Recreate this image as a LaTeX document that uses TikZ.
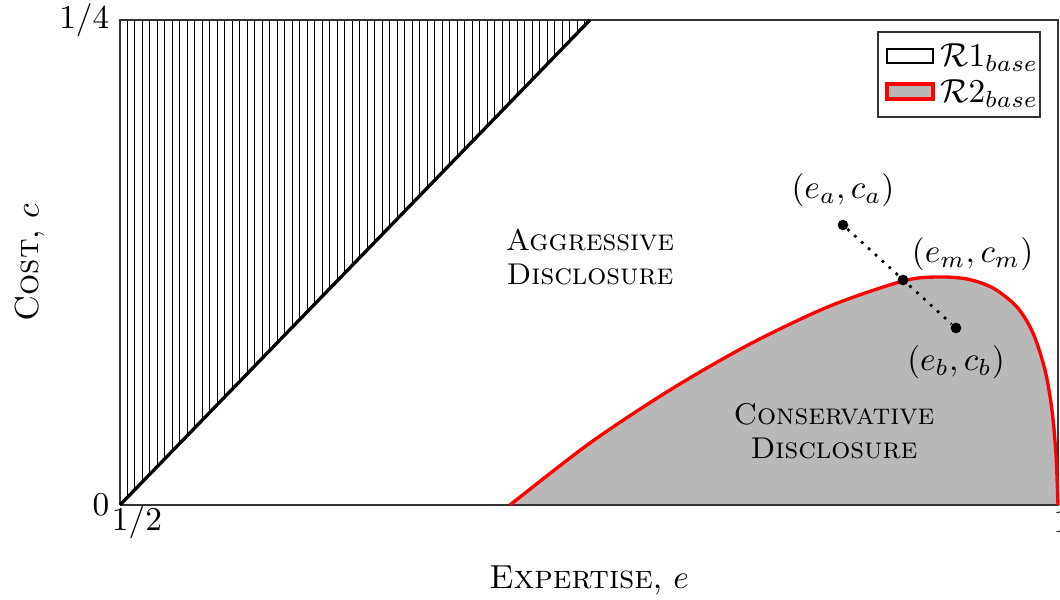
\documentclass[tikz,border=0pt]{standalone}
\usepackage{amsmath}
\usepackage{amssymb}
\usetikzlibrary{positioning, calc}

\tikzset{
    hatch/.style={black, line width=0.3pt},
    frameline/.style={black!80, line width=0.45pt},
    boundary/.style={black, line width=1pt},
    region2/.style={red, line width=1pt},
    pt/.style={circle, fill=black, inner sep=0pt, minimum size=3.2pt},
    regionlabel/.style={align=center, font=\linespread{0.91}\small\scshape},
}

\newcommand{\rtwocurve}{(390,0) (470,62) (550,115) (630,161) (710,199) (783,224) (817,228) (847,226) (873,217) (897,198) (913,172) (925,135) (932,95) (936,50) (938,0)}

\begin{document}
\begin{tikzpicture}[x=0.3pt, y=0.3pt]
\useasboundingbox (-120,-95) rectangle (940,505);

% corners of the axis box
\coordinate (O) at (0,0);
\coordinate (TL) at (0,485);
\coordinate (TR) at (938,485);
\coordinate (BR) at (938,0);
\coordinate (T) at (470,485);

% R2 region
\fill[black!28] plot[smooth, tension=0.5] coordinates {\rtwocurve} -- cycle;

% R1 region, vertical hatching
\begin{scope}
\clip (O) -- (T) -- (TL) -- cycle;
\foreach \i in {0,...,63} {
    \draw[hatch] ({\i*7.5},0) -- ({\i*7.5},485);
}
\end{scope}

% axis box
\draw[frameline] (O) -- (BR) -- (TR) -- (TL) -- (O);

% boundaries
\draw[boundary] (O) -- (T);
\draw[region2] plot[smooth, tension=0.5] coordinates {\rtwocurve};

% ticks and axis labels
\node[left=3pt of O, inner sep=0pt] (c0) {$0$};
\node[left=3pt of TL, inner sep=0pt] (c1) {$1/4$};
\node (e0) at (17,-17) {$1/2$};
\node (e1) at (942,-17) {$1$};
\node (xlab) at (469,-75) {\textsc{Expertise}, $e$};
\node[rotate=90] (ylab) at (-90,242) {\textsc{Cost}, $c$};

% region names
\node[regionlabel] (aggr) at (470,248) {Aggressive\\Disclosure};
\node[regionlabel] (cons) at (714,74) {Conservative\\Disclosure};

% points
\node[pt, label=above:{$(e_a,c_a)$}] (A) at (723,280) {};
\node[pt, label={[label distance=-3pt]above right:{$(e_m,c_m)$}}] (M) at (783,225) {};
\node[pt, label=below:{$(e_b,c_b)$}] (B) at (836,177) {};
\draw[dotted, thick] (A) -- (B);

% legend
\draw[frameline, fill=white] (758,388) rectangle (920,473);
\draw[black, line width=0.7pt] (767,442) rectangle (813,456);
\draw[region2, fill=black!28] (767,406) rectangle (813,421);
\node[right=2pt, inner sep=0pt] (leg1) at (813,447) {$\mathcal{R}1_{base}$};
\node[right=2pt, inner sep=0pt] (leg2) at (813,411) {$\mathcal{R}2_{base}$};
\end{tikzpicture}
\end{document}
